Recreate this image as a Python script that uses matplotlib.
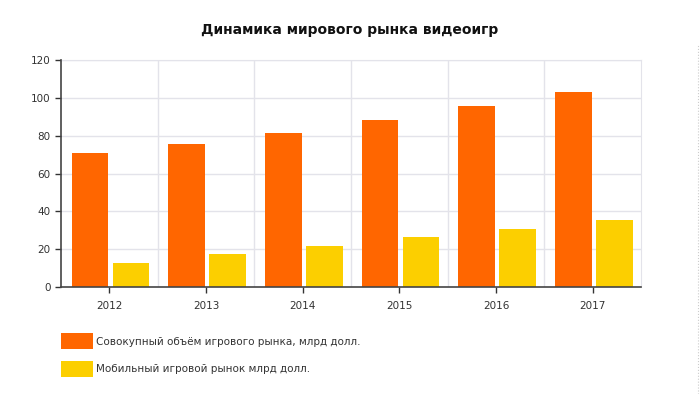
import numpy as np
import matplotlib
matplotlib.use('Agg')
import matplotlib.pyplot as plt
from matplotlib.patches import Patch
from matplotlib.lines import Line2D

plt.rcParams['font.family'] = ['DejaVu Sans']

# data
years = ['2012', '2013', '2014', '2015', '2016', '2017']
total_market = [70.6, 75.8, 81.2, 88.3, 95.5, 103.1]
mobile_market = [12.9, 17.6, 21.7, 26.3, 30.8, 35.4]
series_names = ['Совокупный объём игрового рынка, млрд долл.',
                'Мобильный игровой рынок млрд долл.']
title = 'Динамика мирового рынка видеоигр'

c_total = '#ff6600'
c_mobile = '#fccf00'

fig = plt.figure(figsize=(7, 3.94), dpi=100)
ax = fig.add_axes([61/700, 1 - 287/394, 580/700, 227/394])

x = np.arange(len(years))
w = 0.38
ax.bar(x - 0.2, total_market, width=w, color=c_total, zorder=3)
ax.bar(x + 0.225, mobile_market, width=w, color=c_mobile, zorder=3)

ax.set_xlim(-0.5, len(years) - 0.5)
ax.set_ylim(0, 120)
ax.set_yticks(np.arange(0, 121, 20))
ax.set_xticks(x)
ax.set_xticklabels(years)
ax.tick_params(axis='both', labelsize=7.5, colors='#333333', length=4, width=1)
ax.tick_params(axis='x', pad=6)

# grid: horizontal lines and vertical lines at category boundaries
for y in np.arange(20, 121, 20):
    ax.axhline(y, color='#e3e3ea', lw=1, zorder=1)
for b in np.arange(0.5, len(years) - 0.5, 1):
    ax.axvline(b, color='#e3e3ea', lw=1, zorder=1)

for s in ['top', 'right']:
    ax.spines[s].set_color('#e3e3ea')
for s in ['left', 'bottom']:
    ax.spines[s].set_color('#444444')
    ax.spines[s].set_linewidth(1.2)
ax.spines['left'].set_zorder(4)
ax.spines['bottom'].set_zorder(4)

fig.text(350/700, 1 - 30/394, title, ha='center', va='center',
         fontsize=10, fontweight='bold', color='#111111')

handles = [Patch(facecolor=c_total, edgecolor='none'),
           Patch(facecolor=c_mobile, edgecolor='none')]
fig.legend(handles, series_names, loc='upper left',
           bbox_to_anchor=(52/700, 1 - 324/394), frameon=False,
           fontsize=7.5, handlelength=3.0, handleheight=2.0,
           handletextpad=0.3, labelspacing=1.1, labelcolor='#333333')

# faint dotted border on the right edge
fig.add_artist(Line2D([698/700, 698/700], [0, 1 - 45/394],
                      transform=fig.transFigure, color='#cccccc',
                      lw=0.8, ls=':'))

fig.savefig('out.png', dpi=100, facecolor='white')
